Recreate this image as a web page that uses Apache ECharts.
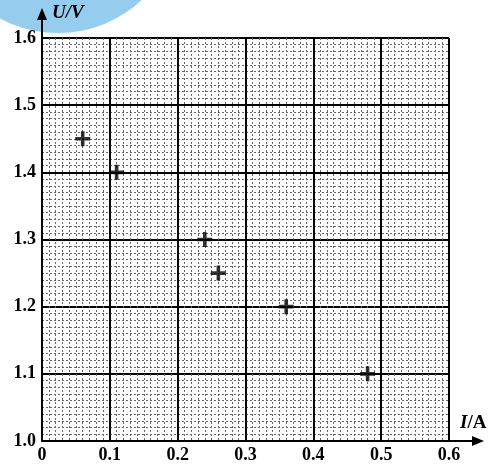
<!DOCTYPE html>
<html>
<head>
<meta charset="utf-8">
<script src="https://cdn.jsdelivr.net/npm/echarts@6/dist/echarts.min.js"></script>
<style>html,body{margin:0;padding:0;background:#fff}#c{width:502px;height:475px}</style>
</head>
<body>
<div id="c"></div>
<script>
var currentA = [0.06, 0.11, 0.24, 0.26, 0.36, 0.48];
var voltageV = [1.45, 1.40, 1.30, 1.25, 1.20, 1.10];
var xTicks = ['0', '0.1', '0.2', '0.3', '0.4', '0.5', '0.6'];
var yTicks = ['1.0', '1.1', '1.2', '1.3', '1.4', '1.5', '1.6'];

var G = {left: 42, right: 53, top: 38, bottom: 34};
var W = 502, H = 475;
var font = '"Liberation Serif","DejaVu Serif",serif';
var chart = echarts.init(document.getElementById('c'), null, {renderer: 'canvas'});
var pts = currentA.map(function (x, i) { return [x, voltageV[i]]; });
var x0 = G.left, y0 = H - G.bottom, x1 = W - G.right, yT = G.top;

chart.setOption({
  animation: false,
  backgroundColor: '#fff',
  grid: {left: G.left, right: G.right, top: G.top, bottom: G.bottom, containLabel: false},
  xAxis: {
    type: 'value', min: 0, max: 0.6, interval: 0.1,
    axisLine: {show: true, lineStyle: {color: '#000', width: 2}},
    axisTick: {show: false},
    axisLabel: {color: '#000', fontFamily: font, fontWeight: 'bold', fontSize: 18, margin: 5,
      formatter: function (v) { return xTicks[Math.round(v * 10)]; }},
    splitLine: {show: true, lineStyle: {color: '#000', width: 2}},
    minorTick: {show: false, splitNumber: 10},
    minorSplitLine: {show: true, lineStyle: {color: '#666', width: 1, type: [2, 2]}}
  },
  yAxis: {
    type: 'value', min: 1.0, max: 1.6, interval: 0.1,
    axisLine: {show: true, lineStyle: {color: '#000', width: 2}},
    axisTick: {show: false},
    axisLabel: {color: '#000', fontFamily: font, fontWeight: 'bold', fontSize: 18, margin: 6,
      formatter: function (v) { return yTicks[Math.round((v - 1) * 10)]; }},
    splitLine: {show: true, lineStyle: {color: '#000', width: 2}},
    minorTick: {show: false, splitNumber: 10},
    minorSplitLine: {show: true, lineStyle: {color: '#666', width: 1, type: [2, 2]}}
  },
  graphic: [
    {type: 'circle', shape: {cx: 58, cy: -90, r: 123}, style: {fill: 'rgb(150,205,238)'}, z: 0, silent: true},
    {type: 'line', shape: {x1: x0, y1: yT, x2: x0, y2: 14}, style: {stroke: '#000', lineWidth: 2}, z: 10},
    {type: 'polygon', shape: {points: [[x0 - 5, 20], [x0, 8], [x0 + 5, 20]]}, style: {fill: '#000'}, z: 10},
    {type: 'line', shape: {x1: x1, y1: y0, x2: 478, y2: y0}, style: {stroke: '#000', lineWidth: 2}, z: 10},
    {type: 'polygon', shape: {points: [[472, y0 - 5], [484, y0], [472, y0 + 5]]}, style: {fill: '#000'}, z: 10},
    {type: 'text', left: 52, top: 4, style: {text: 'U/V', font: 'italic bold 19px ' + font, fill: '#000'}, z: 10},
    {type: 'text', left: 460, top: 414, style: {text: '{i|I}/A', font: 'bold 19px ' + font, fill: '#000',
      rich: {i: {fontStyle: 'italic', fontWeight: 'bold', fontSize: 19, fontFamily: font}}}, z: 10}
  ],
  series: [{
    type: 'scatter',
    data: pts,
    symbol: 'path://M3.8,0 H6.2 V3.8 H10 V6.2 H6.2 V10 H3.8 V6.2 H0 V3.8 H3.8 Z',
    symbolSize: 15,
    itemStyle: {color: '#000'},
    z: 5
  }]
});
</script>
</body>
</html>
